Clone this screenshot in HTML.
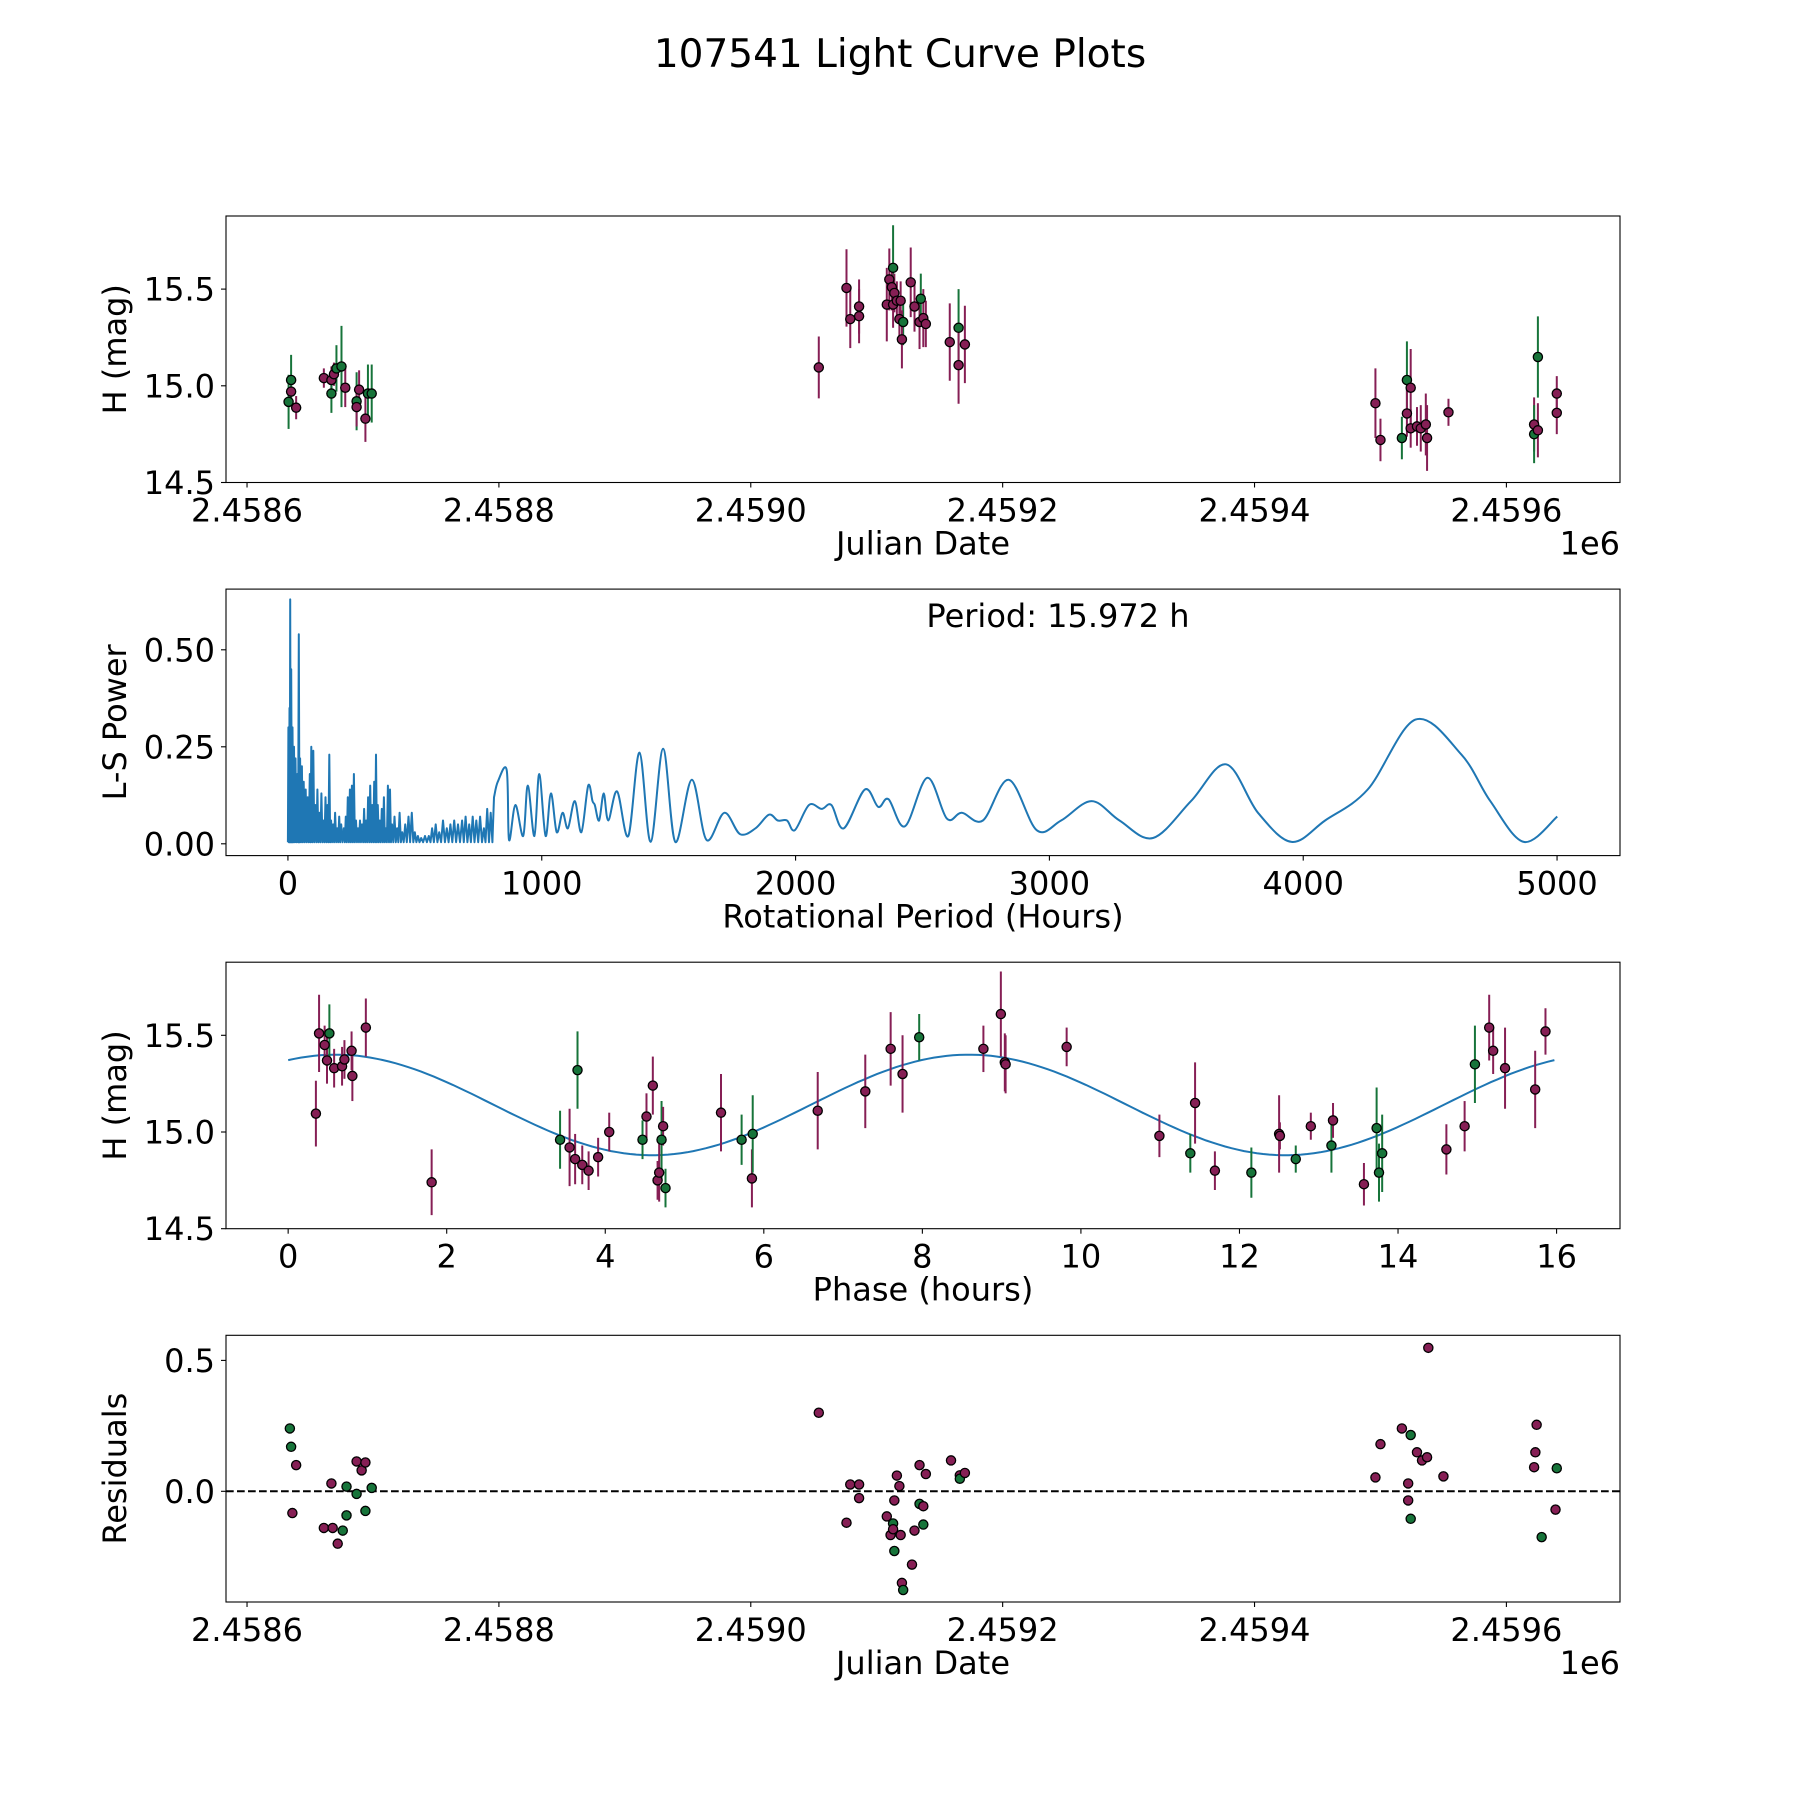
<!DOCTYPE html>
<html><head><meta charset="utf-8"><title>107541 Light Curve Plots</title>
<style>html,body{margin:0;padding:0;background:#fff}svg{display:block;font-family:"DejaVu Sans","Liberation Sans",sans-serif}</style>
</head><body>
<svg id="fig" width="1800" height="1800" viewBox="0 0 1800 1800" xmlns="http://www.w3.org/2000/svg">
<rect width="1800" height="1800" fill="#fff"/>
<text x="900" y="67" font-size="39" text-anchor="middle">107541 Light Curve Plots</text>
</svg>
<script>
// ---- Panel 1: H vs Julian Date (day offset from 2458600) ----
const lcDays = [33,35,35,39,61,67,67,69,71,75,78,87,87,89,94,96,99,
 454,476,479,486,486,508,510,513,512,514,513,516,518,519,521,520,527,530,534,535,537,539,558,565,565,570,
 896,900,917,921,924,921,924,929,932,936,937,954,1022,1022,1025,1025,1040,1040];
const lcMags = [14.917,14.97,15.03,14.887,15.04,15.03,14.96,15.06,15.09,15.10,14.99,14.92,14.89,14.98,14.83,14.96,14.96,
 15.095,15.506,15.345,15.36,15.41,15.42,15.55,15.61,15.51,15.48,15.42,15.44,15.345,15.44,15.33,15.24,15.535,15.41,15.33,15.45,15.35,15.32,15.226,15.30,15.107,15.214,
 14.91,14.72,14.73,15.03,14.99,14.857,14.78,14.79,14.78,14.80,14.73,14.863,14.80,14.75,14.77,15.149,14.96,14.86];
const lcErrs = [0.14,0.07,0.13,0.06,0.05,0.07,0.1,0.06,0.12,0.21,0.1,0.15,0.1,0.1,0.12,0.15,0.15,
 0.16,0.2,0.15,0.14,0.14,0.19,0.16,0.22,0.12,0.1,0.12,0.1,0.1,0.1,0.12,0.15,0.18,0.13,0.14,0.13,0.15,0.12,0.2,0.2,0.2,0.2,
 0.18,0.11,0.11,0.2,0.2,0.12,0.1,0.1,0.12,0.16,0.17,0.07,0.14,0.15,0.14,0.21,0.09,0.11];
const lcBands = "gpgpppgpggpgpppgg" + "pppppppgppppppgppppgpppgp" + "pppggpppppppppgpg";
// ---- Panel 2: Lomb-Scargle periodogram ----
const spikePeriods = [2,6,9,13,18,24,30,37,43,48,55,62,70,78,86,92,100,108,116,124,132,140,148,156,163,170,178,186,194,202,210,220,228,236,244,252,260,268,276,284,292,300,308,316,324,332,340,347,354,362,370,378,386,394,402,410,420,430,440,450,462,475,488,500,512,525,540,555,568,582,596,611,626,640,655,670,686,700,714,728,742,757,772,785,799,812];
const spikePowers = [0.30,0.35,0.63,0.45,0.30,0.25,0.22,0.18,0.54,0.22,0.20,0.16,0.14,0.12,0.18,0.25,0.24,0.10,0.14,0.08,0.13,0.06,0.12,0.10,0.23,0.06,0.05,0.08,0.04,0.07,0.05,0.04,0.07,0.12,0.14,0.15,0.18,0.06,0.04,0.06,0.05,0.09,0.06,0.12,0.15,0.10,0.16,0.23,0.10,0.06,0.09,0.12,0.04,0.15,0.14,0.05,0.07,0.04,0.08,0.03,0.05,0.07,0.08,0.03,0.02,0.015,0.02,0.02,0.04,0.05,0.03,0.06,0.04,0.05,0.06,0.05,0.06,0.07,0.05,0.07,0.06,0.07,0.04,0.09,0.08,0.12];
const spikeFloor = 0.004;
const smoothPeriods = [827,862,871,896,927,945,971,990,1015,1036,1059,1082,1103,1130,1156,1183,1200,1209,1226,1244,1262,1297,1341,1385,1429,1478,1526,1591,1649,1719,1781,1842,1895,1930,1966,1997,2053,2103,2141,2190,2273,2326,2366,2431,2519,2596,2655,2738,2840,2950,3046,3166,3276,3408,3558,3696,3822,3954,4086,4254,4442,4623,4737,4869,5001];
const smoothPowers = [0.16,0.19,0.01,0.10,0.02,0.15,0.02,0.18,0.02,0.13,0.03,0.08,0.04,0.11,0.03,0.15,0.11,0.10,0.06,0.13,0.06,0.135,0.02,0.235,0.005,0.245,0.005,0.165,0.01,0.08,0.025,0.04,0.075,0.06,0.06,0.035,0.10,0.09,0.10,0.04,0.14,0.095,0.115,0.045,0.17,0.065,0.08,0.06,0.165,0.035,0.06,0.11,0.06,0.015,0.11,0.205,0.08,0.005,0.06,0.14,0.32,0.23,0.11,0.005,0.07];
const periodLabel = "Period: 15.972 h";
// ---- Panel 3: phased light curve ----
const phHours = [0.35,0.39,0.46,0.49,0.52,0.58,0.68,0.71,0.80,0.81,0.98,1.81,3.43,3.55,3.62,3.65,3.71,3.79,3.91,4.05,4.47,4.52,4.60,4.66,4.68,4.71,4.73,4.76,5.46,5.72,5.85,5.86,6.68,7.28,7.60,7.75,7.96,8.77,8.99,9.04,9.05,9.82,10.99,11.38,11.44,11.69,12.15,12.50,12.51,12.71,12.90,13.16,13.18,13.57,13.73,13.76,13.80,14.61,14.84,14.97,15.15,15.20,15.35,15.73,15.86];
const phMags = [15.095,15.51,15.45,15.37,15.51,15.33,15.34,15.375,15.42,15.29,15.54,14.74,14.96,14.92,14.86,15.32,14.83,14.80,14.87,15.0,14.96,15.08,15.24,14.75,14.79,14.96,15.03,14.71,15.10,14.96,14.76,14.99,15.11,15.21,15.43,15.30,15.49,15.43,15.61,15.36,15.35,15.44,14.98,14.89,15.15,14.80,14.79,14.99,14.98,14.86,15.03,14.93,15.06,14.73,15.02,14.79,14.89,14.91,15.03,15.35,15.54,15.42,15.33,15.22,15.52];
const phErrs = [0.17,0.2,0.1,0.12,0.15,0.1,0.1,0.1,0.1,0.13,0.15,0.17,0.15,0.2,0.13,0.2,0.1,0.1,0.1,0.1,0.1,0.12,0.15,0.1,0.15,0.2,0.1,0.1,0.2,0.13,0.15,0.2,0.2,0.19,0.19,0.2,0.12,0.12,0.22,0.15,0.15,0.1,0.11,0.1,0.21,0.1,0.13,0.2,0.07,0.07,0.07,0.14,0.09,0.11,0.21,0.15,0.2,0.13,0.13,0.2,0.17,0.12,0.21,0.2,0.12];
const phBands = "ppppgpppppp" + "pgppgppppgppppgpgpgpg" + "ppppgpppp" + "ppgppgppgpgppggg" + "ppgpp";
const fitMean = [15.14];
const fitAmp = [0.26];
const fitPhase0 = [0.6];
const fitPeriod = [7.986];
// ---- Panel 4: residuals ----
const resDays = [34,35,39,36,61,67,68,72,76,79,79,87,87,91,94,94,99,454,476,479,486,486,508,511,513,514,513,514,516,518,519,520,521,528,530,534,534,537,537,539,559,566,566,570,896,900,917,922,924,924,922,929,933,937,938,950,1022,1023,1024,1028,1039,1040];
const resVals = [0.24,0.17,0.10,-0.083,-0.14,0.03,-0.14,-0.20,-0.15,0.018,-0.092,0.114,-0.01,0.08,0.11,-0.075,0.013,0.30,-0.12,0.026,0.026,-0.026,-0.096,-0.167,-0.123,-0.228,-0.145,-0.035,0.06,0.02,-0.167,-0.35,-0.377,-0.28,-0.15,0.10,-0.048,-0.057,-0.127,0.066,0.118,0.061,0.048,0.07,0.053,0.18,0.24,-0.035,-0.105,0.215,0.03,0.149,0.118,0.13,0.548,0.057,0.092,0.149,0.254,-0.175,-0.07,0.088];
const resBands = "ggppppppgggpgppgg" + "pppppppggppppppgpppgpgpppgpp" + "pppggpppppppppgpg";
const jdTicks = [2458600,2458800,2459000,2459200,2459400,2459600];
const jdTickLabels = ["2.4586","2.4588","2.4590","2.4592","2.4594","2.4596"];
const magTicks = [14.5,15.0,15.5];
const magTickLabels = ["14.5","15.0","15.5"];
const lsXTicks = [0,1000,2000,3000,4000,5000];
const lsYTicks = [0,0.25,0.5];
const lsYTickLabels = ["0.00","0.25","0.50"];
const phXTicks = [0,2,4,6,8,10,12,14,16];
const resYTicks = [0,0.5];
const resYTickLabels = ["0.0","0.5"];

const svg = document.getElementById('fig');
const NS = 'http://www.w3.org/2000/svg';
const PURPLE = '#861f55', GREEN = '#17743a', BLUE = '#1f77b4';
const FS = 32;
function mk(tag, attrs, parent){ const e = document.createElementNS(NS, tag); for (const k in attrs) e.setAttribute(k, attrs[k]); (parent||svg).appendChild(e); return e; }
function scale(d0,d1,r0,r1){ return v => r0 + (v-d0)*(r1-r0)/(d1-d0); }
const L = 226, R = 1620;
const tops = [216, 589.1, 962.2, 1335.3], bots = [482.5, 855.6, 1228.7, 1602];
const JD0 = -16.7, JD1 = 1090.2;

function axesFrame(i, name){
  const g = mk('g', {});
  
  
  return g;
}
function spines(g, i){
  const r = mk('rect', {x:L, y:tops[i], width:R-L, height:bots[i]-tops[i], fill:'none', stroke:'#000', 'stroke-width':1.1}, g);
  
  
}
function xTicks(g, i, vals, labels, sx){
  vals.forEach((v, k) => {
    const x = sx(v);
    mk('line', {x1:x, x2:x, y1:bots[i], y2:bots[i]+5, stroke:'#000', 'stroke-width':1.1}, g);
    const t = mk('text', {x:x, y:bots[i]+39, 'font-size':FS, 'text-anchor':'middle'}, g);
    t.textContent = labels[k];
    
    
  });
}
function yTicks(g, i, vals, labels, sy){
  vals.forEach((v, k) => {
    const y = sy(v);
    mk('line', {x1:L-5, x2:L, y1:y, y2:y, stroke:'#000', 'stroke-width':1.1}, g);
    const t = mk('text', {x:L-11, y:y+11.5, 'font-size':FS, 'text-anchor':'end'}, g);
    t.textContent = labels[k];
    
    
  });
}
function xLabel(g, i, txt){
  const t = mk('text', {x:(L+R)/2, y:bots[i]+72, 'font-size':FS, 'text-anchor':'middle'}, g);
  t.textContent = txt;
  
  
}
function yLabel(g, i, txt){
  const cy = (tops[i]+bots[i])/2;
  const t = mk('text', {x:0, y:0, 'font-size':FS, 'text-anchor':'middle', transform:`translate(126 ${cy}) rotate(-90)`}, g);
  t.textContent = txt;
  
  
}
function offsetText(g, i){
  const t = mk('text', {x:R, y:bots[i]+72, 'font-size':FS, 'text-anchor':'end'}, g);
  t.textContent = '1e6';
  
  
}
function clipFor(i){
  const cp = mk('clipPath', {id:'clip'+i});
  mk('rect', {x:L, y:tops[i], width:R-L, height:bots[i]-tops[i]}, cp);
  return 'url(#clip'+i+')';
}
function errPoints(g, xs, ys, es, bands, sx, sy){
  xs.forEach((xv, k) => {
    const c = bands[k] === 'g' ? GREEN : PURPLE;
    const x = sx(xv);
    if (es) {
      const bar = mk('line', {x1:x, x2:x, y1:sy(ys[k]-es[k]), y2:sy(ys[k]+es[k]), stroke:c, 'stroke-width':2}, g);
      
      
    }
  });
  xs.forEach((xv, k) => {
    const c = bands[k] === 'g' ? GREEN : PURPLE;
    const p = mk('circle', {cx:sx(xv), cy:sy(ys[k]), r:4.6, fill:c, stroke:'#000', 'stroke-width':1.3}, g);
    
    
  });
}

// Panel 1
(function(){
  const i = 0, g = axesFrame(i, 'light-curve-panel');
  const sx = scale(JD0, JD1, L, R);
  const sy = scale(14.5, 15.878, bots[i], tops[i]);
  const jdx = v => sx(v - 2458600);
  const pg = mk('g', {'clip-path':clipFor(i)}, g);
  errPoints(pg, lcDays, lcMags, lcErrs, lcBands, sx, sy);
  spines(g, i);
  xTicks(g, i, jdTicks, jdTickLabels, jdx);
  yTicks(g, i, magTicks, magTickLabels, sy);
  xLabel(g, i, 'Julian Date'); yLabel(g, i, 'H (mag)'); offsetText(g, i);
})();

// Panel 2
(function(){
  const i = 1, g = axesFrame(i, 'periodogram-panel');
  const sx = scale(-244, 5248, L, R);
  const sy = scale(0, 0.5, 843.8, 649.8);
  let pts = [];
  spikePeriods.forEach((p, k) => {
    const prev = k === 0 ? 0 : spikePeriods[k-1];
    if (k > 0) pts.push([sx((p+prev)/2), sy(spikeFloor)]);
    else pts.push([sx(0), sy(spikeFloor)]);
    pts.push([sx(p), sy(spikePowers[k])]);
  });
  let d = 'M' + pts.map(q => q[0].toFixed(1)+','+q[1].toFixed(1)).join(' L');
  const sp = smoothPeriods.map((p, k) => [sx(p), sy(smoothPowers[k])]);
  const all = [pts[pts.length-1]].concat(sp);
  for (let k = 0; k < all.length-1; k++) {
    const p0 = all[Math.max(0,k-1)], p1 = all[k], p2 = all[k+1], p3 = all[Math.min(all.length-1,k+2)];
    const c1 = [p1[0]+(p2[0]-p0[0])/6, p1[1]+(p2[1]-p0[1])/6];
    const c2 = [p2[0]-(p3[0]-p1[0])/6, p2[1]-(p3[1]-p1[1])/6];
    d += ` C${c1[0].toFixed(1)},${c1[1].toFixed(1)} ${c2[0].toFixed(1)},${c2[1].toFixed(1)} ${p2[0].toFixed(1)},${p2[1].toFixed(1)}`;
  }
  const line = mk('path', {d:d, fill:'none', stroke:BLUE, 'stroke-width':2, 'stroke-linejoin':'round'}, g);
  
  
  spines(g, i);
  xTicks(g, i, lsXTicks, lsXTicks.map(String), sx);
  yTicks(g, i, lsYTicks, lsYTickLabels, sy);
  xLabel(g, i, 'Rotational Period (Hours)'); yLabel(g, i, 'L-S Power');
  const t = mk('text', {x:1058, y:627, 'font-size':FS, 'text-anchor':'middle'}, g);
  t.textContent = periodLabel;
  
  
})();

// Panel 3
(function(){
  const i = 2, g = axesFrame(i, 'phase-panel');
  const sx = scale(-0.784, 16.80, L, R);
  const sy = scale(14.5, 15.878, bots[i], tops[i]);
  const pg = mk('g', {'clip-path':clipFor(i)}, g);
  const P = 15.972;
  let d = '';
  for (let k = 0; k <= 200; k++) {
    const p = P * k / 200;
    const h = fitMean[0] + fitAmp[0]*Math.cos(2*Math.PI*(p - fitPhase0[0])/fitPeriod[0]);
    d += (k ? ' L' : 'M') + sx(p).toFixed(1) + ',' + sy(h).toFixed(1);
  }
  const fit = mk('path', {d:d, fill:'none', stroke:BLUE, 'stroke-width':2}, pg);
  
  
  errPoints(pg, phHours, phMags, phErrs, phBands, sx, sy);
  spines(g, i);
  xTicks(g, i, phXTicks, phXTicks.map(String), sx);
  yTicks(g, i, magTicks, magTickLabels, sy);
  xLabel(g, i, 'Phase (hours)'); yLabel(g, i, 'H (mag)');
})();

// Panel 4
(function(){
  const i = 3, g = axesFrame(i, 'residuals-panel');
  const sx = scale(JD0, JD1, L, R);
  const sy = scale(0, 0.5, 1491.3, 1360.4);
  const jdx = v => sx(v - 2458600);
  const z = mk('line', {x1:L, x2:R, y1:sy(0), y2:sy(0), stroke:'#000', 'stroke-width':2, 'stroke-dasharray':'7.7,3.3'}, g);
  
  
  const pg = mk('g', {'clip-path':clipFor(i)}, g);
  errPoints(pg, resDays, resVals, null, resBands, sx, sy);
  spines(g, i);
  xTicks(g, i, jdTicks, jdTickLabels, jdx);
  yTicks(g, i, resYTicks, resYTickLabels, sy);
  xLabel(g, i, 'Julian Date'); yLabel(g, i, 'Residuals'); offsetText(g, i);
})();
</script>
</body></html>
